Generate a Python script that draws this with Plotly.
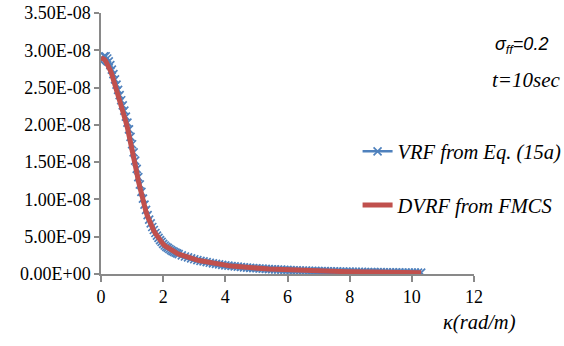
import plotly.graph_objects as go

# wavenumber kappa (rad/m)
k_fine = [round(0.05 * i, 2) for i in range(51)]          # 0.00 .. 2.50
k_coarse = [round(2.6 + 0.1 * i, 1) for i in range(78)]   # 2.6 .. 10.3
kappa = k_fine + k_coarse

# VRF from Eq. (15a)  (units of 1e-9)
vrf_e9 = [
    28.5, 28.9, 29.2, 29.2, 28.9, 28.5, 28.0, 27.4, 26.8, 26.1,
    25.4, 24.7, 24.0, 23.3, 22.6, 21.9, 21.1, 20.3, 19.4, 18.4,
    17.4, 16.3, 15.2, 14.1, 13.0, 12.0, 11.0, 10.1, 9.3, 8.6,
    7.9, 7.3, 6.8, 6.3, 5.9, 5.5, 5.15, 4.85, 4.55, 4.3,
    4.05, 3.82, 3.65, 3.5, 3.35, 3.2, 3.08, 2.97, 2.86, 2.76,
    2.66,
    2.5, 2.35, 2.22, 2.1, 1.98, 1.87, 1.77, 1.68, 1.59, 1.51,
    1.43, 1.36, 1.29, 1.23, 1.17, 1.12, 1.07, 1.02, 0.98, 0.94,
    0.9, 0.86, 0.83, 0.8, 0.77, 0.74, 0.71, 0.69, 0.66, 0.64,
    0.62, 0.6, 0.58, 0.56, 0.54, 0.52, 0.5, 0.49, 0.47, 0.46,
    0.45, 0.43, 0.42, 0.41, 0.4, 0.39, 0.38, 0.37, 0.36, 0.35,
    0.34, 0.33, 0.32, 0.31, 0.31, 0.3, 0.29, 0.28, 0.28, 0.27,
    0.26, 0.26, 0.25, 0.25, 0.24, 0.23, 0.23, 0.22, 0.22, 0.21,
    0.21, 0.2, 0.2, 0.2, 0.19, 0.19, 0.18, 0.18,
]

# DVRF from FMCS  (units of 1e-9)
dvrf_e9 = [
    29.0, 28.95, 28.8, 28.55, 28.2, 27.8, 27.3, 26.75, 26.1, 25.4,
    24.7, 24.0, 23.3, 22.6, 21.9, 21.2, 20.4, 19.6, 18.7, 17.7,
    16.7, 15.7, 14.6, 13.6, 12.5, 11.5, 10.5, 9.7, 9.0, 8.3,
    7.7, 7.15, 6.65, 6.2, 5.8, 5.45, 5.1, 4.8, 4.5, 4.25,
    4.0, 3.8, 3.65, 3.5, 3.35, 3.2, 3.08, 2.97, 2.86, 2.76,
    2.66,
    2.5, 2.35, 2.22, 2.1, 1.98, 1.87, 1.77, 1.68, 1.59, 1.51,
    1.43, 1.36, 1.29, 1.23, 1.17, 1.12, 1.07, 1.02, 0.98, 0.94,
    0.9, 0.86, 0.83, 0.8, 0.77, 0.74, 0.71, 0.69, 0.66, 0.64,
    0.62, 0.6, 0.58, 0.56, 0.54, 0.52, 0.5, 0.49, 0.47, 0.46,
    0.45, 0.43, 0.42, 0.41, 0.4, 0.39, 0.38, 0.37, 0.36, 0.35,
    0.34, 0.33, 0.32, 0.31, 0.31, 0.3, 0.29, 0.28, 0.28, 0.27,
    0.26, 0.26, 0.25, 0.25, 0.24, 0.23, 0.23, 0.22, 0.22, 0.21,
    0.21, 0.2, 0.2, 0.2, 0.19, 0.19, 0.18, 0.18,
]

vrf = [v * 1e-9 for v in vrf_e9]
dvrf = [v * 1e-9 for v in dvrf_e9]

y_tickvals = [0, 5e-9, 1e-8, 1.5e-8, 2e-8, 2.5e-8, 3e-8, 3.5e-8]
y_ticktext = ["0.00E+00", "5.00E-09", "1.00E-08", "1.50E-08",
              "2.00E-08", "2.50E-08", "3.00E-08", "3.50E-08"]
x_tickvals = [0, 2, 4, 6, 8, 10, 12]

BLUE = "#4F81BD"
RED = "#C0504D"
AXIS = "#898989"
SERIF = "Liberation Serif"
SANS = "Liberation Sans"

fig = go.Figure()
fig.add_trace(go.Scatter(
    x=kappa, y=vrf, mode="lines+markers", name="<i>VRF from Eq. (15a)</i>",
    line=dict(color=BLUE, width=2.5),
    marker=dict(symbol="x-thin", size=8, line=dict(color=BLUE, width=1.7)),
    legendgroup="a",
))
fig.add_trace(go.Scatter(
    x=kappa, y=dvrf, mode="lines", name="<i>DVRF from FMCS</i>",
    line=dict(color=RED, width=5),
    legendgroup="b",
))

fig.update_layout(
    template="none",
    width=564, height=346,
    margin=dict(l=101, r=90, t=13, b=72, autoexpand=False),
    paper_bgcolor="white", plot_bgcolor="white",
    font=dict(family=SERIF, size=18, color="black"),
    showlegend=True,
    legend=dict(
        xref="container", yref="container",
        x=0.634, y=0.62, xanchor="left", yanchor="top",
        font=dict(family=SERIF, size=20.5, color="black"),
        tracegroupgap=24, traceorder="grouped",
        bgcolor="rgba(0,0,0,0)", itemwidth=30,
    ),
    xaxis=dict(
        range=[0, 12], tickvals=x_tickvals, showgrid=False, zeroline=False,
        showline=True, linecolor=AXIS, linewidth=1.5, mirror=False,
        ticks="outside", ticklen=6, tickcolor=AXIS, tickwidth=1.5,
        tickfont=dict(family=SERIF, size=18, color="black"),
    ),
    yaxis=dict(
        range=[0, 3.5e-8], tickvals=y_tickvals, ticktext=y_ticktext,
        showgrid=False, zeroline=False,
        showline=True, linecolor=AXIS, linewidth=1.5, mirror=False,
        ticks="outside", ticklen=5, tickcolor=AXIS, tickwidth=1.5,
        tickfont=dict(family=SERIF, size=18, color="black"),
    ),
    annotations=[
        dict(text="<i>κ(rad/m)</i>", xref="paper", yref="paper",
             x=(479 - 101) / 373, y=-(322 - 274) / 261, xanchor="center", yanchor="middle",
             showarrow=False, font=dict(family=SERIF, size=20.5)),
        dict(text="<i>σ<sub>ff</sub>=0.2</i>", xref="paper", yref="paper",
             x=(521 - 101) / 373, y=(274 - 45) / 261, xanchor="center", yanchor="middle",
             showarrow=False, font=dict(family=SANS, size=18)),
        dict(text="<i>t=10sec</i>", xref="paper", yref="paper",
             x=(526 - 101) / 373, y=(274 - 80) / 261, xanchor="center", yanchor="middle",
             showarrow=False, font=dict(family=SERIF, size=21)),
    ],
)

fig.write_html("out.html")
